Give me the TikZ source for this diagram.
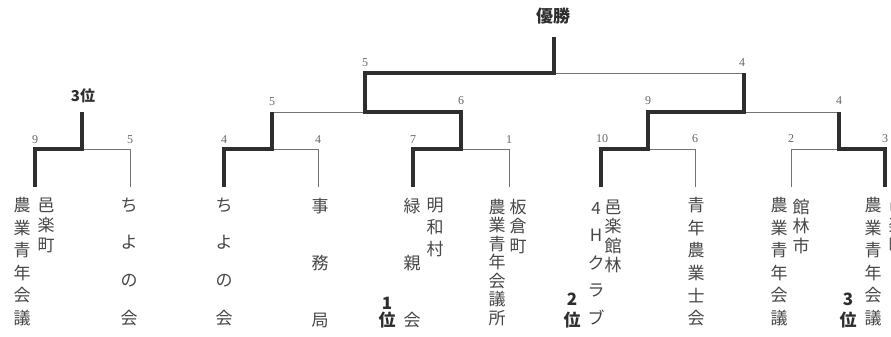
\documentclass[tikz,border=0pt]{standalone}
\usepackage{fontspec}
\setmainfont{Liberation Serif}
\newfontfamily\cjk{Noto Sans CJK JP}
\newcommand\teamcol[5]{\foreach \ch [count=\i from 0] in {#5}{\node[tn] (#1\i) at (#2,{#3+\i*#4}) {\ch};}}
\begin{document}
\begin{tikzpicture}[x=1pt,y=-1pt,
  tn/.style={inner sep=0pt, text=black!72, font=\cjk\fontsize{17}{17}\selectfont},
  num/.style={inner sep=0pt, text=black!60, font=\fontsize{12}{12}\selectfont},
  rk/.style={inner sep=0pt, text=black!82, font=\cjk\bfseries\fontsize{17}{17}\selectfont},
  thinl/.style={line width=1pt, draw=black!55},
  winl/.style={line width=4pt, draw=black!82, line join=miter}]
\useasboundingbox (0,0) rectangle (891,337);
\fill[white] (0,0) rectangle (891,337);
% coordinates
\coordinate (t1) at (35,187);  \coordinate (t2) at (130,187);
\coordinate (t3) at (224,187); \coordinate (t4) at (318,187);
\coordinate (t5) at (413,187); \coordinate (t6) at (509,187);
\coordinate (t7) at (601,187); \coordinate (t8) at (695,187);
\coordinate (t9) at (791,187); \coordinate (t10) at (885,187);
\coordinate (j0) at (82,149);  \coordinate (j0t) at (82,112);
\coordinate (j1) at (272,149); \coordinate (j1t) at (272,112);
\coordinate (j2) at (461,149); \coordinate (j2t) at (461,112);
\coordinate (j3) at (648,149); \coordinate (j3t) at (648,112);
\coordinate (j4) at (839,149); \coordinate (j4t) at (839,112);
\coordinate (sa) at (365,112); \coordinate (sat) at (365,73);
\coordinate (sb) at (744,112); \coordinate (sbt) at (744,73);
\coordinate (fj) at (554,73);  \coordinate (ft) at (554,37);
% thin (losing) lines
\draw[thinl] (j0) -| (t2);
\draw[thinl] (j1) -| (t4);
\draw[thinl] (j2) -| (t6);
\draw[thinl] (j3) -| (t8);
\draw[thinl] (j4) -| (t9);
\draw[thinl] (sa) -- (j1t);
\draw[thinl] (sb) -- (j4t);
\draw[thinl] (fj) -- (sbt);
% thick (winning) lines
\draw[winl] (t1) |- (j0) -- (j0t);
\draw[winl] (t3) |- (j1) -- (j1t);
\draw[winl] (t5) |- (j2) -- (j2t) -- (sa) -- (sat) -- (fj) -- (ft);
\draw[winl] (t7) |- (j3) -- (j3t) -- (sb) -- (sbt);
\draw[winl] (t10) |- (j4) -- (j4t);
% scores
\node[num] (s1) at (35,140) {9};
\node[num] (s2) at (130,140) {5};
\node[num] (s3) at (224,140) {4};
\node[num] (s4) at (318,140) {4};
\node[num] (s5) at (413,140) {7};
\node[num] (s6) at (509,140) {1};
\node[num] (s7) at (602,139) {10};
\node[num] (s8) at (695,139) {6};
\node[num] (s9) at (791,139) {2};
\node[num] (s10) at (885,139) {3};
\node[num] (s11) at (272,102) {5};
\node[num] (s12) at (461,101) {6};
\node[num] (s13) at (648,101) {9};
\node[num] (s14) at (839,101) {4};
\node[num] (s15) at (365,63) {5};
\node[num] (s16) at (742,63) {4};
% titles
\node[rk, font=\cjk\bfseries\fontsize{17}{17}\selectfont] (win) at (553,16) {優勝};
\node[rk, font=\cjk\bfseries\fontsize{15}{15}\selectfont] (third) at (83,96) {3位};
% team names
\teamcol{a}{22}{205}{22.6}{農,業,青,年,会,議}
\teamcol{b}{46}{205}{20}{邑,楽,町}
\teamcol{c}{129}{205}{37.7}{ち,よ,の,会}
\teamcol{d}{224}{205}{37.7}{ち,よ,の,会}
\teamcol{e}{320}{206}{57}{事,務,局}
\teamcol{f}{412}{206}{57}{緑,親,会}
\teamcol{g}{435}{205}{22}{明,和,村}
\teamcol{h}{497}{207}{18.5}{農,業,青,年,会,議,所}
\teamcol{i}{518}{207}{19.5}{板,倉,町}
\teamcol{k}{596}{208}{27.5}{4,H,ク,ラ,ブ}
\teamcol{l}{613}{207}{19.5}{邑,楽,館,林}
\teamcol{m}{696}{205}{22.6}{青,年,農,業,士,会}
\teamcol{n}{779}{205}{22.6}{農,業,青,年,会,議}
\teamcol{o}{801}{207}{19.5}{館,林,市}
\teamcol{p}{873}{205}{22.6}{農,業,青,年,会,議}
\teamcol{q}{897}{205}{20}{邑,楽,町}
% ranks
\node[rk] (r1a) at (387,303) {1};
\node[rk] (r1b) at (387,320) {位};
\node[rk] (r2a) at (572,299) {2};
\node[rk] (r2b) at (572,320) {位};
\node[rk] (r3a) at (848,299) {3};
\node[rk] (r3b) at (848,320) {位};
\end{tikzpicture}
\end{document}
